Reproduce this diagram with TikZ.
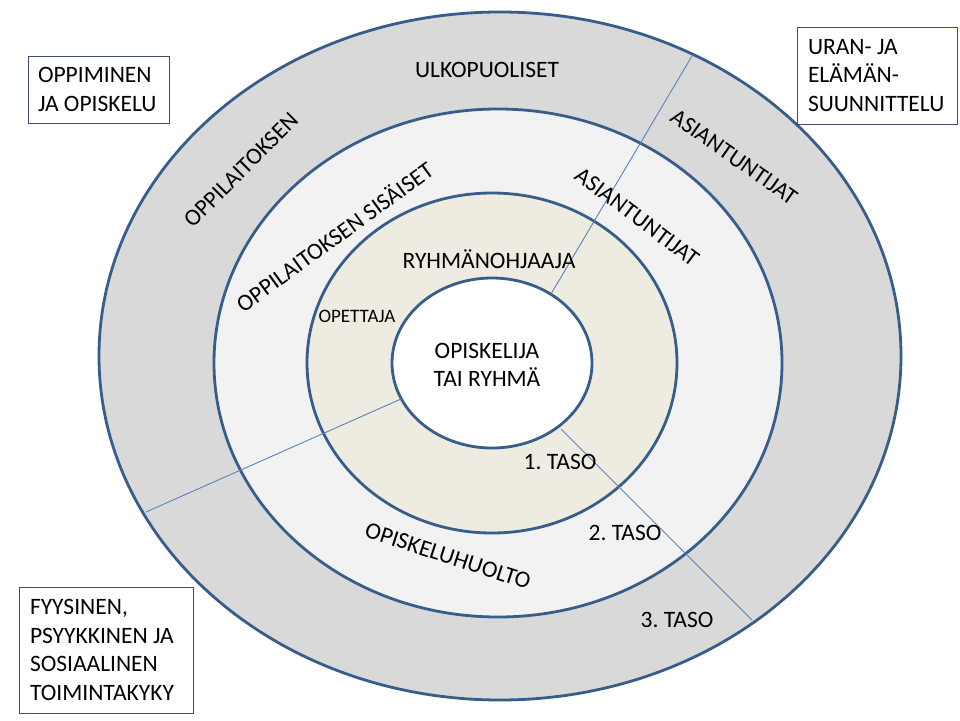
\documentclass[tikz,border=0pt]{standalone}
\usepackage{fontspec}
\setmainfont{Carlito}
\frenchspacing
\definecolor{ringline}{HTML}{385D8A}
\definecolor{sepline}{HTML}{5A82B8}
\definecolor{boxline}{HTML}{3F4F6A}
\definecolor{outerfill}{HTML}{D9D9D9}
\definecolor{midfill}{HTML}{F2F2F2}
\definecolor{innerfill}{HTML}{EEECE1}
\begin{document}
\begin{tikzpicture}[x=1pt,y=-1pt,
  ring/.style={draw=ringline, line width=2.8pt},
  sep/.style={draw=sepline, line width=0.9pt},
  lbl/.style={font=\fontsize{23.5}{28.5}\selectfont, inner sep=0pt, align=center},
  smalllbl/.style={font=\fontsize{19}{23}\selectfont, inner sep=0pt},
  infobox/.style={draw=boxline, line width=1pt, fill=white, align=flush left, inner xsep=10pt, inner ysep=0pt, outer sep=0pt, font=\fontsize{23.5}{28.5}\selectfont, anchor=north west}]
\useasboundingbox (0,0) rectangle (960,720);
\fill[white] (0,0) rectangle (960,720);
% rings
\draw[ring, fill=outerfill] (500,356) ellipse [x radius=401pt, y radius=344pt];
\draw[ring, fill=midfill] (498,363) ellipse [x radius=284pt, y radius=254pt];
\draw[ring, fill=innerfill] (492,363) ellipse [x radius=185pt, y radius=170pt];
\draw[ring, fill=white] (492,363) ellipse [x radius=100pt, y radius=85pt];
% separator lines
\coordinate (s1a) at (551,294);
\coordinate (s1b) at (692,56);
\coordinate (s2a) at (401,399);
\coordinate (s2b) at (146,512);
\coordinate (s3a) at (561,429);
\coordinate (s3b) at (752,620);
\draw[sep] (s1a) -- (s1b);
\draw[sep] (s2a) -- (s2b);
\draw[sep] (s3a) -- (s3b);
% labels
\node[lbl] (ulko) at (487,70) {ULKOPUOLISET};
\node[lbl, rotate=45] (oppout) at (241,170) {OPPILAITOKSEN};
\node[lbl, rotate=-35] (asiout) at (734,157) {ASIANTUNTIJAT};
\node[lbl, rotate=36] (oppsis) at (334,236) {OPPILAITOKSEN SISÄISET};
\node[lbl, rotate=-37] (asiin) at (637,217) {ASIANTUNTIJAT};
\node[lbl] (ryhma) at (489,259) {RYHMÄNOHJAAJA};
\node[smalllbl] (opettaja) at (357,316) {OPETTAJA};
\node[lbl] (opiskelija) at (487,365) {OPISKELIJA\\TAI RYHMÄ};
\node[lbl] (taso1) at (560,462) {1. TASO};
\node[lbl] (taso2) at (625,533) {2. TASO};
\node[lbl] (taso3) at (677,620) {3. TASO};
\node[lbl, rotate=-18] (huolto) at (448,556) {OPISKELUHUOLTO};
% boxes
\node[infobox, inner xsep=10pt, text width=121pt, minimum height=67pt] (box1) at (28,56) {OPPIMINEN\\JA OPISKELU};
\node[infobox, inner xsep=11pt, text width=138pt, minimum height=97pt] (box2) at (797,27) {URAN- JA\\ELÄMÄN-\\SUUNNITTELU};
\node[infobox, inner xsep=11pt, text width=152pt, minimum height=126pt] (box3) at (19,587) {FYYSINEN,\\PSYYKKINEN JA\\SOSIAALINEN\\TOIMINTAKYKY};
\end{tikzpicture}
\end{document}
